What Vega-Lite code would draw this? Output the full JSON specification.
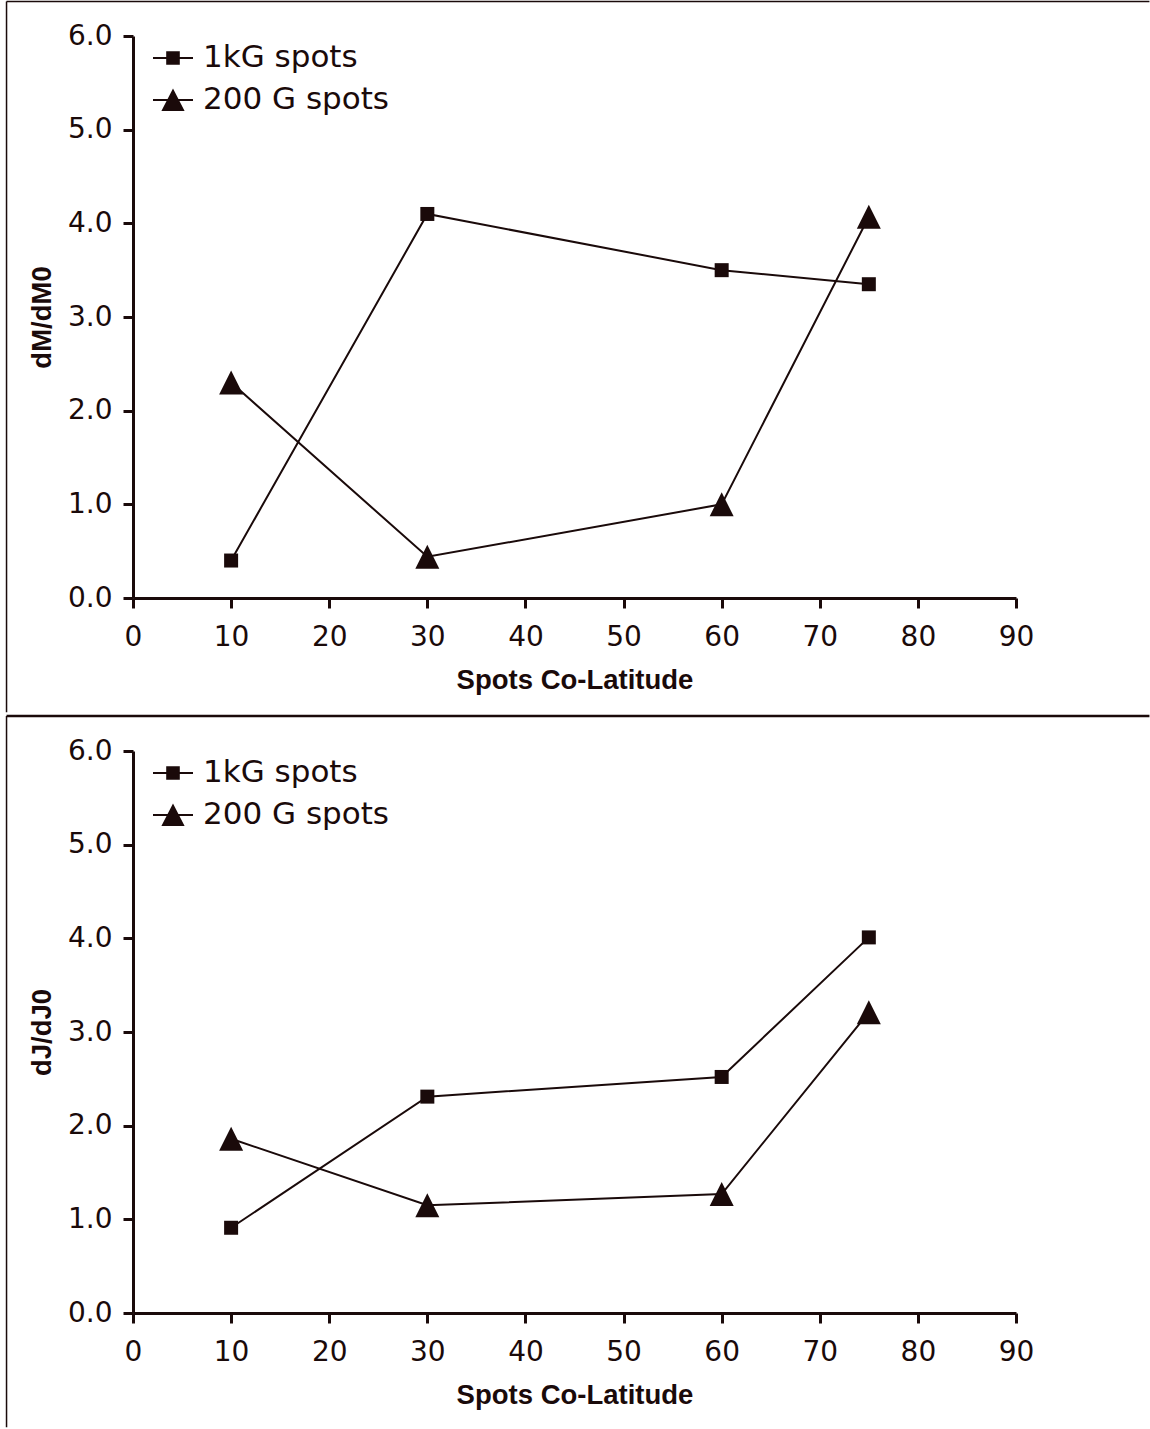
{
  "$schema": "https://vega.github.io/schema/vega-lite/v6.json",
  "background": "white",
  "padding": {"left": 5, "top": 0, "right": 0, "bottom": 0},
  "spacing": 0,
  "config": {
    "view": {"stroke": null},
    "axis": {
      "grid": false, "labelFlush": false, "labelOverlap": false,
      "domainColor": "#1a0a0a", "domainWidth": 3,
      "tickColor": "#1a0a0a", "tickWidth": 3, "tickSize": 10,
      "labelFont": "DejaVu Sans", "labelFontSize": 28, "labelColor": "#1a0a0a",
      "titleFont": "Liberation Sans", "titleFontWeight": "bold", "titleFontSize": 27.5, "titleColor": "#1a0a0a"
    },
    "legend": {
      "orient": "none", "legendX": 20, "legendY": 2,
      "padding": 0, "symbolSize": 1600, "symbolStrokeWidth": 0,
      "labelFont": "DejaVu Sans", "labelFontSize": 31, "labelColor": "#1a0a0a",
      "labelOffset": 10, "rowPadding": 7, "labelLimit": 500
    }
  },
  "datasets": {
    "pts": [
      {"panel": "M", "series": "1kG spots", "lat": 10, "val": 0.4},
      {"panel": "M", "series": "1kG spots", "lat": 30, "val": 4.1},
      {"panel": "M", "series": "1kG spots", "lat": 60, "val": 3.5},
      {"panel": "M", "series": "1kG spots", "lat": 75, "val": 3.35},
      {"panel": "M", "series": "200 G spots", "lat": 10, "val": 2.3},
      {"panel": "M", "series": "200 G spots", "lat": 30, "val": 0.44},
      {"panel": "M", "series": "200 G spots", "lat": 60, "val": 1.0},
      {"panel": "M", "series": "200 G spots", "lat": 75, "val": 4.07},
      {"panel": "J", "series": "1kG spots", "lat": 10, "val": 0.91},
      {"panel": "J", "series": "1kG spots", "lat": 30, "val": 2.31},
      {"panel": "J", "series": "1kG spots", "lat": 60, "val": 2.52},
      {"panel": "J", "series": "1kG spots", "lat": 75, "val": 4.01},
      {"panel": "J", "series": "200 G spots", "lat": 10, "val": 1.86},
      {"panel": "J", "series": "200 G spots", "lat": 30, "val": 1.15},
      {"panel": "J", "series": "200 G spots", "lat": 60, "val": 1.27},
      {"panel": "J", "series": "200 G spots", "lat": 75, "val": 3.21}
    ]
  },
  "vconcat": [
    {
      "width": 883, "height": 562,
      "resolve": {"scale": {"shape": "independent", "size": "independent"}, "legend": {"shape": "independent"}},
      "layer": [
        {
          "data": {"values": [{}]},
          "mark": {"type": "rule", "strokeWidth": 1.5, "color": "#1a0a0a"},
          "encoding": {
            "x": {"datum": -12.89, "type": "quantitative"},
            "x2": {"datum": 103.6},
            "y": {"datum": 6.368, "type": "quantitative"}
          }
        },
        {
          "data": {"values": [{}]},
          "mark": {"type": "rule", "strokeWidth": 1.5, "color": "#1a0a0a"},
          "encoding": {
            "x": {"datum": -12.89, "type": "quantitative"},
            "y": {"datum": 6.368, "type": "quantitative"},
            "y2": {"datum": -1.22}
          }
        },
        {
          "data": {"name": "pts"},
          "transform": [{"filter": "datum.panel == 'M'"}],
          "mark": {"type": "line", "strokeWidth": 2, "color": "#1a0a0a"},
          "encoding": {
            "x": {"field": "lat", "type": "quantitative", "scale": {"domain": [0, 90], "nice": false, "zero": false},
                  "axis": {"title": "Spots Co-Latitude", "values": [0, 10, 20, 30, 40, 50, 60, 70, 80, 90], "format": "d", "labelPadding": 15, "titlePadding": 15}},
            "y": {"field": "val", "type": "quantitative", "scale": {"domain": [0, 6], "nice": false},
                  "axis": {"title": "dM/dM0", "values": [0, 1, 2, 3, 4, 5, 6], "format": ".1f", "labelPadding": 11, "titlePadding": 11}},
            "detail": {"field": "series"}
          }
        },
        {
          "data": {"name": "pts"},
          "transform": [{"filter": "datum.panel == 'M'"}],
          "mark": {"type": "point", "filled": true, "opacity": 1, "color": "#1a0a0a", "strokeWidth": 0},
          "encoding": {
            "x": {"field": "lat", "type": "quantitative"},
            "y": {"field": "val", "type": "quantitative"},
            "shape": {"field": "series", "type": "nominal", "legend": null,
                      "scale": {"domain": ["1kG spots", "200 G spots"], "range": ["M-1,-1H1V1H-1Z", "M0,-1L1,1L-1,1Z"]}},
            "size": {"field": "series", "type": "nominal", "legend": null,
                     "scale": {"domain": ["1kG spots", "200 G spots"], "range": [196, 576]}}
          }
        },
        {
          "data": {"name": "pts"},
          "transform": [{"filter": "datum.panel == 'M'"}],
          "mark": {"type": "point", "filled": true, "opacity": 0, "color": "#1a0a0a", "strokeWidth": 0},
          "encoding": {
            "x": {"field": "lat", "type": "quantitative"},
            "y": {"field": "val", "type": "quantitative"},
            "shape": {"field": "series", "type": "nominal",
                      "scale": {"domain": ["1kG spots", "200 G spots"], "range": ["M-1,-0.05H1V0.05H-1Z M-0.34,-0.34H0.34V0.34H-0.34Z", "M-1,-0.05H1V0.05H-1Z M0,-0.58L0.58,0.55L-0.58,0.55Z"]},
                      "legend": {"title": null, "encode": {"symbols": {"update": {"opacity": {"value": 1}, "fill": {"value": "#1a0a0a"}, "fillOpacity": {"value": 1}}}}}}
          }
        }
      ]
    },
    {
      "width": 883, "height": 562,
      "resolve": {"scale": {"shape": "independent", "size": "independent"}, "legend": {"shape": "independent"}},
      "layer": [
        {
          "data": {"values": [{}]},
          "mark": {"type": "rule", "strokeWidth": 2.5, "color": "#1a0a0a"},
          "encoding": {
            "x": {"datum": -12.89, "type": "quantitative"},
            "x2": {"datum": 103.6},
            "y": {"datum": 6.374, "type": "quantitative"}
          }
        },
        {
          "data": {"values": [{}]},
          "mark": {"type": "rule", "strokeWidth": 1.5, "color": "#1a0a0a"},
          "encoding": {
            "x": {"datum": -12.89, "type": "quantitative"},
            "y": {"datum": 6.374, "type": "quantitative"},
            "y2": {"datum": -1.22}
          }
        },
        {
          "data": {"name": "pts"},
          "transform": [{"filter": "datum.panel == 'J'"}],
          "mark": {"type": "line", "strokeWidth": 2, "color": "#1a0a0a"},
          "encoding": {
            "x": {"field": "lat", "type": "quantitative", "scale": {"domain": [0, 90], "nice": false, "zero": false},
                  "axis": {"title": "Spots Co-Latitude", "values": [0, 10, 20, 30, 40, 50, 60, 70, 80, 90], "format": "d", "labelPadding": 15, "titlePadding": 15}},
            "y": {"field": "val", "type": "quantitative", "scale": {"domain": [0, 6], "nice": false},
                  "axis": {"title": "dJ/dJ0", "values": [0, 1, 2, 3, 4, 5, 6], "format": ".1f", "labelPadding": 11, "titlePadding": 11}},
            "detail": {"field": "series"}
          }
        },
        {
          "data": {"name": "pts"},
          "transform": [{"filter": "datum.panel == 'J'"}],
          "mark": {"type": "point", "filled": true, "opacity": 1, "color": "#1a0a0a", "strokeWidth": 0},
          "encoding": {
            "x": {"field": "lat", "type": "quantitative"},
            "y": {"field": "val", "type": "quantitative"},
            "shape": {"field": "series", "type": "nominal", "legend": null,
                      "scale": {"domain": ["1kG spots", "200 G spots"], "range": ["M-1,-1H1V1H-1Z", "M0,-1L1,1L-1,1Z"]}},
            "size": {"field": "series", "type": "nominal", "legend": null,
                     "scale": {"domain": ["1kG spots", "200 G spots"], "range": [196, 576]}}
          }
        },
        {
          "data": {"name": "pts"},
          "transform": [{"filter": "datum.panel == 'J'"}],
          "mark": {"type": "point", "filled": true, "opacity": 0, "color": "#1a0a0a", "strokeWidth": 0},
          "encoding": {
            "x": {"field": "lat", "type": "quantitative"},
            "y": {"field": "val", "type": "quantitative"},
            "shape": {"field": "series", "type": "nominal",
                      "scale": {"domain": ["1kG spots", "200 G spots"], "range": ["M-1,-0.05H1V0.05H-1Z M-0.34,-0.34H0.34V0.34H-0.34Z", "M-1,-0.05H1V0.05H-1Z M0,-0.58L0.58,0.55L-0.58,0.55Z"]},
                      "legend": {"title": null, "encode": {"symbols": {"update": {"opacity": {"value": 1}, "fill": {"value": "#1a0a0a"}, "fillOpacity": {"value": 1}}}}}}
          }
        }
      ]
    }
  ]
}
